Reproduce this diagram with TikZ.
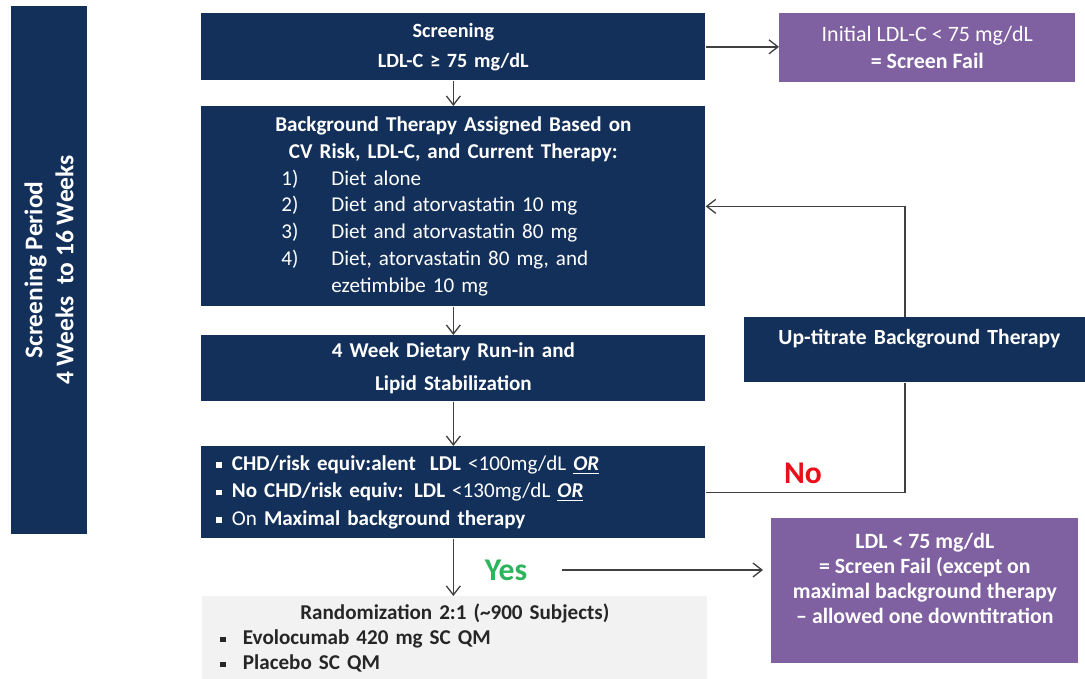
\documentclass[tikz,border=0pt]{standalone}
\usepackage{fontspec}
\setmainfont{Carlito}
\usetikzlibrary{arrows.meta}
\definecolor{ink}{HTML}{404040}
\definecolor{navy}{HTML}{13305B}
\definecolor{failpurple}{HTML}{7F60A0}
\definecolor{randgray}{HTML}{F2F2F2}
\definecolor{yesgreen}{HTML}{2DB55D}
\definecolor{nored}{HTML}{E8101A}
\tikzset{
  flow/.style={-{Straight Barb[length=1.8mm,width=2.8mm]},draw=ink,line width=.75pt},
  loopline/.style={draw=ink,line width=.75pt},
  navybox/.style={fill=navy,text=white,inner sep=0pt,anchor=north west,
    minimum width=10.08cm,text width=10.08cm,align=center,
    font=\fontsize{12}{15.3}\selectfont\bfseries},
  failbox/.style={fill=failpurple,text=white,inner sep=0pt,anchor=north west,align=center,
    font=\fontsize{12.4}{14.2}\selectfont\bfseries},
  answer/.style={inner sep=0pt,font=\fontsize{18}{20}\selectfont\bfseries}
}
\newcommand{\sqbullet}{\rule[.25ex]{.55ex}{.55ex}}
\newcommand{\therapyrow}[2]{%
  \makebox[10.08cm][l]{\hspace{1.6cm}\makebox[1cm][l]{\mdseries #1}\mdseries #2}}
\newcommand{\critrow}[1]{\hspace*{.3cm}\sqbullet\hspace{.2cm}#1}
\newcommand{\armrow}[1]{\makebox[10.1cm][l]{\hspace{.36cm}\sqbullet\hspace{.34cm}#1}}

\begin{document}
\begin{tikzpicture}[x=1cm,y=-1cm]
  \useasboundingbox (0,0) rectangle (21.7,13.58);
  \clip (0,0) rectangle (21.7,13.58);

  % Screening period bar on the left.
  \node[fill=navy,text=white,rotate=90,minimum width=10.56cm,minimum height=1.52cm,
    align=center,font=\fontsize{14.5}{17.6}\selectfont\bfseries] (period) at (.98,5.4)
    {Screening Period\\4 Weeks\ \ to 16 Weeks};

  % Main column.
  \node[navybox,minimum height=1.34cm,font=\fontsize{11.5}{17}\selectfont\bfseries] (screen) at (4.02,.26)
    {Screening\\LDL-C ≥ 75 mg/dL};
  \node[navybox,minimum height=4cm] (bgther) at (4.02,2.12)
    {Background Therapy Assigned Based on\\
     CV Risk, LDL-C, and Current Therapy:\\
     \therapyrow{1)}{Diet alone}\\
     \therapyrow{2)}{Diet and atorvastatin 10 mg}\\
     \therapyrow{3)}{Diet and atorvastatin 80 mg}\\
     \therapyrow{4)}{Diet, atorvastatin 80 mg, and}\\
     \therapyrow{}{ezetimbibe 10 mg}};
  \node[navybox,minimum height=1.32cm,font=\fontsize{12}{18.7}\selectfont\bfseries] (runin) at (4.02,6.7)
    {4 Week Dietary Run-in and\\Lipid Stabilization};
  \node[navybox,minimum height=1.84cm,align=left,font=\fontsize{12}{15.6}\selectfont\bfseries] (crit) at (4.02,8.92)
    {\critrow{CHD/risk equiv:alent\ \ LDL {\mdseries<100mg/dL} {\itshape\underline{OR}}}\\
     \critrow{No CHD/risk equiv: LDL {\mdseries<130mg/dL} {\itshape\underline{OR}}}\\
     \critrow{{\mdseries On} Maximal background therapy}};
  \node[fill=randgray,text=black!85,inner xsep=0pt,inner ysep=.16cm,anchor=north west,
    text width=10.1cm,align=center,font=\fontsize{12}{14.2}\selectfont\bfseries] (rand) at (4.04,11.92)
    {Randomization 2:1 (\textasciitilde900 Subjects)\\
     \armrow{Evolocumab 420 mg SC QM}\\
     \armrow{Placebo SC QM}};

  % Side boxes.
  \node[failbox,minimum width=5.92cm,minimum height=1.38cm,font=\fontsize{12.5}{15.3}\selectfont\bfseries] (initfail) at (15.58,.26)
    {{\mdseries Initial LDL-C < 75 mg/dL}\\= Screen Fail};
  \node[navybox,minimum width=7cm,text width=7cm,minimum height=1.3cm,font=\fontsize{12.3}{15}\selectfont\bfseries] (uptit) at (14.88,6.34)
    {Up-titrate Background Therapy\\\mbox{}};
  \node[failbox,minimum width=6.14cm,minimum height=2.9cm] (ldlfail) at (15.42,10.36)
    {LDL < 75 mg/dL\\= Screen Fail (except on\\maximal background therapy\\-- allowed one downtitration\\\mbox{}};

  % Decisions.
  \node[answer,text=nored] (no) at (16.06,9.46) {No};
  \node[answer,text=yesgreen] (yes) at (10.12,11.4) {Yes};

  % Connectors.
  \coordinate (loopx) at (18.1,0);
  \draw[flow] (screen.east) -- (screen.east -| initfail.west);
  \draw[flow] (screen.south -| bgther.north) -- (bgther.north);
  \draw[flow] (bgther.south) -- (runin.north);
  \draw[flow] (runin.south) -- (crit.south |- crit.north);
  \draw[flow] (crit.south) -- (crit.south |- rand.north);
  \draw[loopline] (crit.east) -| (uptit.south -| loopx);
  \draw[flow] (uptit.north -| loopx) |- (bgther.east);
  \draw[flow,shorten >=.16cm] ([xshift=.68cm]yes.east) -- (yes.east -| ldlfail.west);
\end{tikzpicture}
\end{document}
